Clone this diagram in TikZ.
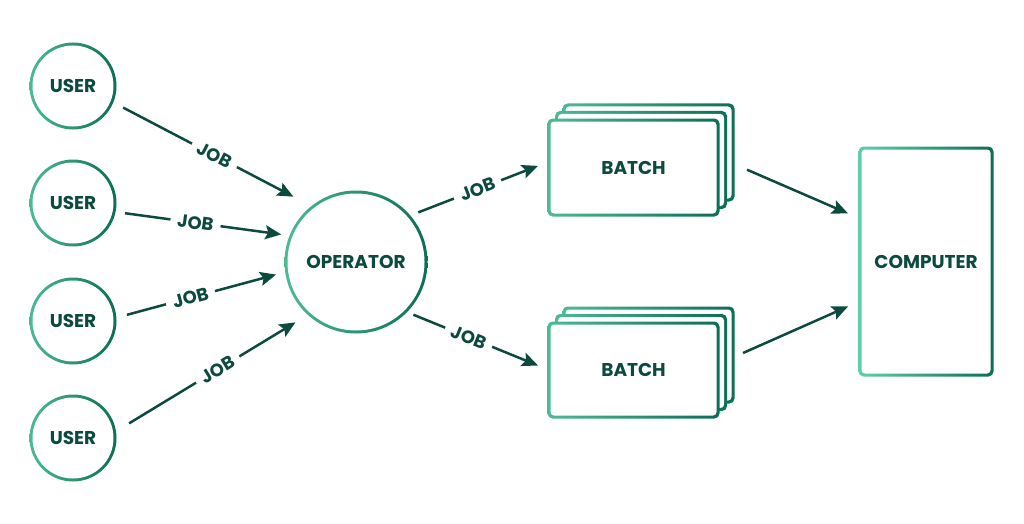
\documentclass[tikz,border=0pt]{standalone}
\usepackage{fontspec}
\setmainfont{Poppins}
\usetikzlibrary{arrows.meta,backgrounds}
\definecolor{gl}{HTML}{4CBB92}
\definecolor{gll}{HTML}{5FD0A5}
\definecolor{gd}{HTML}{0B6E55}
\definecolor{ink}{HTML}{0C4A3F}
\tikzset{
  txt/.style={font=\bfseries\fontsize{18.5}{22}\selectfont, text=ink},
  usernode/.style={txt, circle, minimum size=84pt, inner sep=0pt, outer sep=0pt},
  opnode/.style={txt, circle, minimum size=140pt, inner sep=0pt, outer sep=0pt},
  boxnode/.style={txt, rectangle, inner sep=0pt, outer sep=0pt},
  arr/.style={draw=ink, line width=2.5pt, -{Stealth[length=16pt,width=14pt,inset=3pt]}},
  lbl/.style={sloped, fill=white, inner xsep=7pt, inner ysep=1pt, font=\bfseries\fontsize{18}{20}\selectfont, text=ink},
  ring/.style={left color=gl, right color=gd}
}
\newcommand\ringcirc[2]{%
  \shade[ring] (#1.center) circle[radius=#2+1.5];
  \fill[white] (#1.center) circle[radius=#2-1.5];}
\newcommand\ringrect[4][gl]{%
  \shade[left color=#1, right color=gd, rounded corners=5pt]
    ([shift={(#3-1.5,#4+1.5)}]#2.north west) rectangle ([shift={(#3+1.5,#4-1.5)}]#2.south east);
  \fill[white, rounded corners=3.5pt]
    ([shift={(#3+1.5,#4-1.5)}]#2.north west) rectangle ([shift={(#3-1.5,#4+1.5)}]#2.south east);}
\begin{document}
\begin{tikzpicture}[x=1pt,y=1pt]
\useasboundingbox (0,0) rectangle (1024,-524);

\node[usernode] (u1) at (73,-86) {USER};
\node[usernode] (u2) at (73,-203) {USER};
\node[usernode] (u3) at (73,-321) {USER};
\node[usernode] (u4) at (73,-438) {USER};
\node[opnode] (op) at (356,-262) {OPERATOR};
\node[boxnode, minimum width=169pt, minimum height=95pt] (b1) at (633.5,-167.5) {BATCH};
\node[boxnode, minimum width=169pt, minimum height=94pt] (b2) at (633.5,-370) {BATCH};
\node[boxnode, minimum width=132pt, minimum height=227pt] (comp) at (926,-261.5) {COMPUTER};

\begin{scope}[on background layer]
  \fill[white] (0,0) rectangle (1024,-524);
  \ringcirc{u1}{42}
  \ringcirc{u2}{42}
  \ringcirc{u3}{42}
  \ringcirc{u4}{42}
  \ringcirc{op}{70}
  \ringrect{b1}{15}{15}
  \ringrect{b1}{7.5}{7.5}
  \ringrect{b1}{0}{0}
  \ringrect{b2}{15}{15}
  \ringrect{b2}{7.5}{7.5}
  \ringrect{b2}{0}{0}
  \ringrect[gll]{comp}{0}{0}
\end{scope}

\draw[arr, shorten <=12.6pt, shorten >=22pt] (u1.-22) -- node[lbl, pos=0.51] {JOB} (op.128);
\draw[arr, shorten <=11pt, shorten >=10pt] (u2.-12) -- node[lbl, pos=0.46] {JOB} (op.158);
\draw[arr, shorten <=12.5pt, shorten >=11pt] (u3.4) -- node[lbl, pos=0.44] {JOB} (op.-172);
\draw[arr, shorten <=17pt, shorten >=16pt] (u4.8) -- node[lbl, pos=0.53] {JOB} (op.-132);
\draw[arr, shorten <=10.2pt, shorten >=11.8pt] (op.41) -- node[lbl, pos=0.49] {JOB} (b1.176);
\draw[arr, shorten <=8.5pt, shorten >=11.9pt] (op.-45) -- node[lbl, pos=0.44] {JOB} (b2.west);
\draw[arr, shorten <=31.6pt, shorten >=13.1pt] (b1.7) -- (comp.147);
\draw[arr, shorten <=27.4pt, shorten >=13.1pt] (b2.4) -- (comp.-149);
\end{tikzpicture}
\end{document}
